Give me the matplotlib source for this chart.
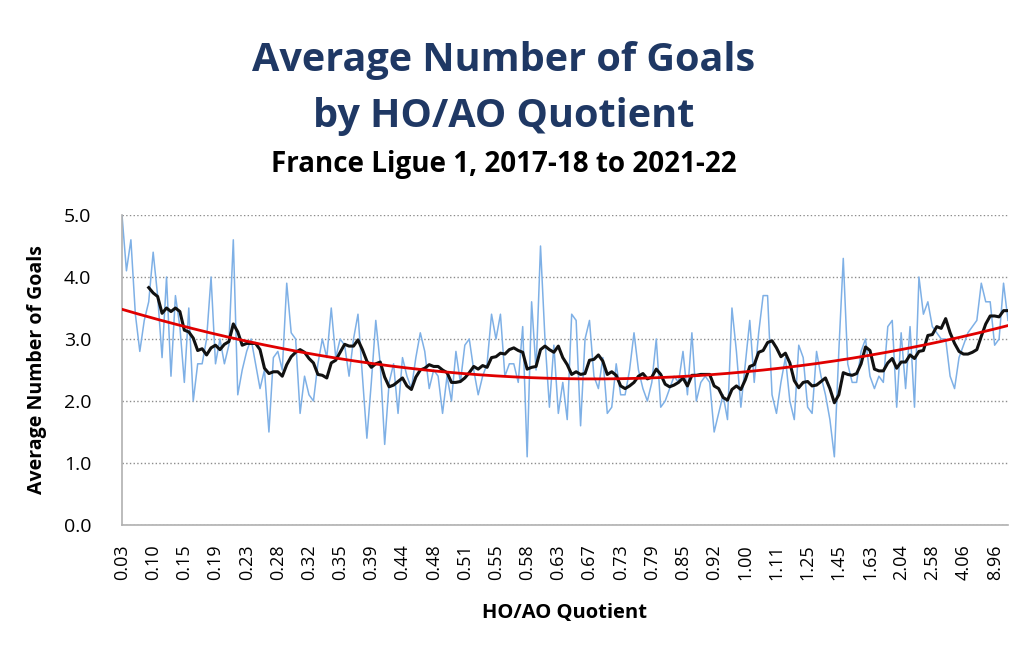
"""Average number of goals by HO/AO quotient, France Ligue 1 2017-18 to 2021-22."""
import matplotlib
matplotlib.use("Agg")
import matplotlib.pyplot as plt
import numpy as np

# Average goals per bucket of matches, ordered by HO/AO quotient
GOALS = [
    5.0, 4.1, 4.6, 3.4, 2.8, 3.3, 3.6, 4.4, 3.7, 2.7,
    4.0, 2.4, 3.7, 3.2, 2.3, 3.5, 2.0, 2.6, 2.6, 3.0,
    4.0, 2.6, 3.0, 2.6, 2.9, 4.6, 2.1, 2.5, 2.8, 3.0,
    2.6, 2.2, 2.5, 1.5, 2.7, 2.8, 2.5, 3.9, 3.1, 3.0,
    1.8, 2.4, 2.1, 2.0, 2.6, 3.0, 2.7, 3.5, 2.7, 3.0,
    2.9, 2.4, 3.0, 3.4, 2.4, 1.4, 2.3, 3.3, 2.6, 1.3,
    2.3, 2.6, 1.8, 2.7, 2.4, 2.2, 2.7, 3.1, 2.8, 2.2,
    2.5, 2.4, 1.8, 2.4, 2.0, 2.8, 2.3, 2.9, 3.0, 2.5,
    2.1, 2.4, 2.6, 3.4, 3.0, 3.4, 2.4, 2.6, 2.6, 2.3,
    3.2, 1.1, 3.6, 2.5, 4.5, 3.0, 1.9, 2.9, 1.8, 2.3,
    1.7, 3.4, 3.3, 1.6, 3.0, 3.3, 2.4, 2.2, 2.7, 1.8,
    1.9, 2.6, 2.1, 2.1, 2.5, 3.1, 2.5, 2.2, 2.0, 2.3,
    3.0, 1.9, 2.0, 2.2, 2.4, 2.3, 2.8, 2.1, 3.1, 2.0,
    2.3, 2.4, 2.3, 1.5, 1.8, 2.1, 1.7, 3.5, 2.8, 1.9,
    2.6, 3.3, 2.3, 3.1, 3.7, 3.7, 2.1, 1.8, 2.3, 2.7,
    2.0, 1.7, 2.9, 2.7, 1.9, 1.8, 2.8, 2.4, 2.1, 1.7,
    1.1, 2.8, 4.3, 2.6, 2.3, 2.3, 2.8, 3.0, 2.4, 2.2,
    2.4, 2.3, 3.2, 3.3, 1.9, 3.1, 2.2, 3.2, 1.9, 4.0,
    3.4, 3.6, 3.2, 3.1, 3.0, 3.0, 2.4, 2.2, 2.7, 2.9,
    3.1, 3.2, 3.3, 3.9, 3.6, 3.6, 2.9, 3.0, 3.9, 3.3,
]

# Every 7th category label shown on the axis
TICK_LABELS = [
    "0.03", "0.10", "0.15", "0.19", "0.23", "0.28", "0.32", "0.35", "0.39",
    "0.44", "0.48", "0.51", "0.55", "0.58", "0.63", "0.67", "0.73", "0.79",
    "0.85", "0.92", "1.00", "1.11", "1.25", "1.45", "1.63", "2.04", "2.58",
    "4.06", "8.96",
]
LABEL_STEP = 7
MA_PERIOD = 7

TITLE_BLUE = "#1f3864"
FONT = "Open Sans"


def main():
    y = np.array(GOALS)
    x = np.arange(len(y))

    # Excel-style trailing moving average and 2nd-order polynomial trendline
    ma = np.convolve(y, np.ones(MA_PERIOD) / MA_PERIOD, mode="valid")
    ma_x = x[MA_PERIOD - 1:]
    coeffs = np.polyfit(x, y, 2)
    trend = np.polyval(coeffs, x)

    fig = plt.figure(figsize=(10.24, 6.63), dpi=100)
    ax = fig.add_axes([122 / 1024, 138 / 663, 886 / 1024, 310 / 663])

    ax.plot(x, y, color="#7eb0e6", linewidth=1.1, zorder=2)
    ax.plot(ma_x, ma, color="#111111", linewidth=2.2, zorder=3)
    ax.plot(x, trend, color="#e00000", linewidth=2.0, zorder=4)

    ax.set_xlim(0, len(y) - 1)
    ax.set_ylim(0, 5)
    ax.set_yticks(np.arange(0, 5.01, 1.0))
    ax.set_yticklabels([f"{v:.1f}" for v in np.arange(0, 5.01, 1.0)],
                       fontsize=14, family=FONT)
    ticks = x[::LABEL_STEP][:len(TICK_LABELS)]
    ax.set_xticks(ticks)
    ax.set_xticklabels(TICK_LABELS, rotation=90, fontsize=13, family=FONT)
    ax.tick_params(axis="y", length=0, pad=22)
    ax.tick_params(axis="x", length=0, pad=14)

    ax.grid(axis="y", linestyle=":", color="#8c8c8c", linewidth=1.0)
    ax.set_axisbelow(True)
    for side in ("top", "right"):
        ax.spines[side].set_visible(False)
    for side in ("left", "bottom"):
        ax.spines[side].set_color("#b0b0b0")
        ax.spines[side].set_linewidth(1.2)

    ax.set_ylabel("Average Number of Goals", fontsize=14, fontweight="bold",
                  family=FONT, labelpad=12)
    ax.set_xlabel("HO/AO Quotient", fontsize=14.5, fontweight="bold",
                  family=FONT, labelpad=16)

    fig.text(0.492, 0.908, "Average Number of Goals", ha="center", va="center",
             fontsize=28.5, fontweight="bold", color=TITLE_BLUE, family=FONT)
    fig.text(0.492, 0.825, "by HO/AO Quotient", ha="center", va="center",
             fontsize=28.5, fontweight="bold", color=TITLE_BLUE, family=FONT)
    fig.text(0.492, 0.752, "France Ligue 1, 2017-18 to 2021-22", ha="center",
             va="center", fontsize=20, fontweight="bold", color="black",
             family=FONT)

    fig.savefig("out.png", dpi=100)
    plt.close(fig)


if __name__ == "__main__":
    main()
